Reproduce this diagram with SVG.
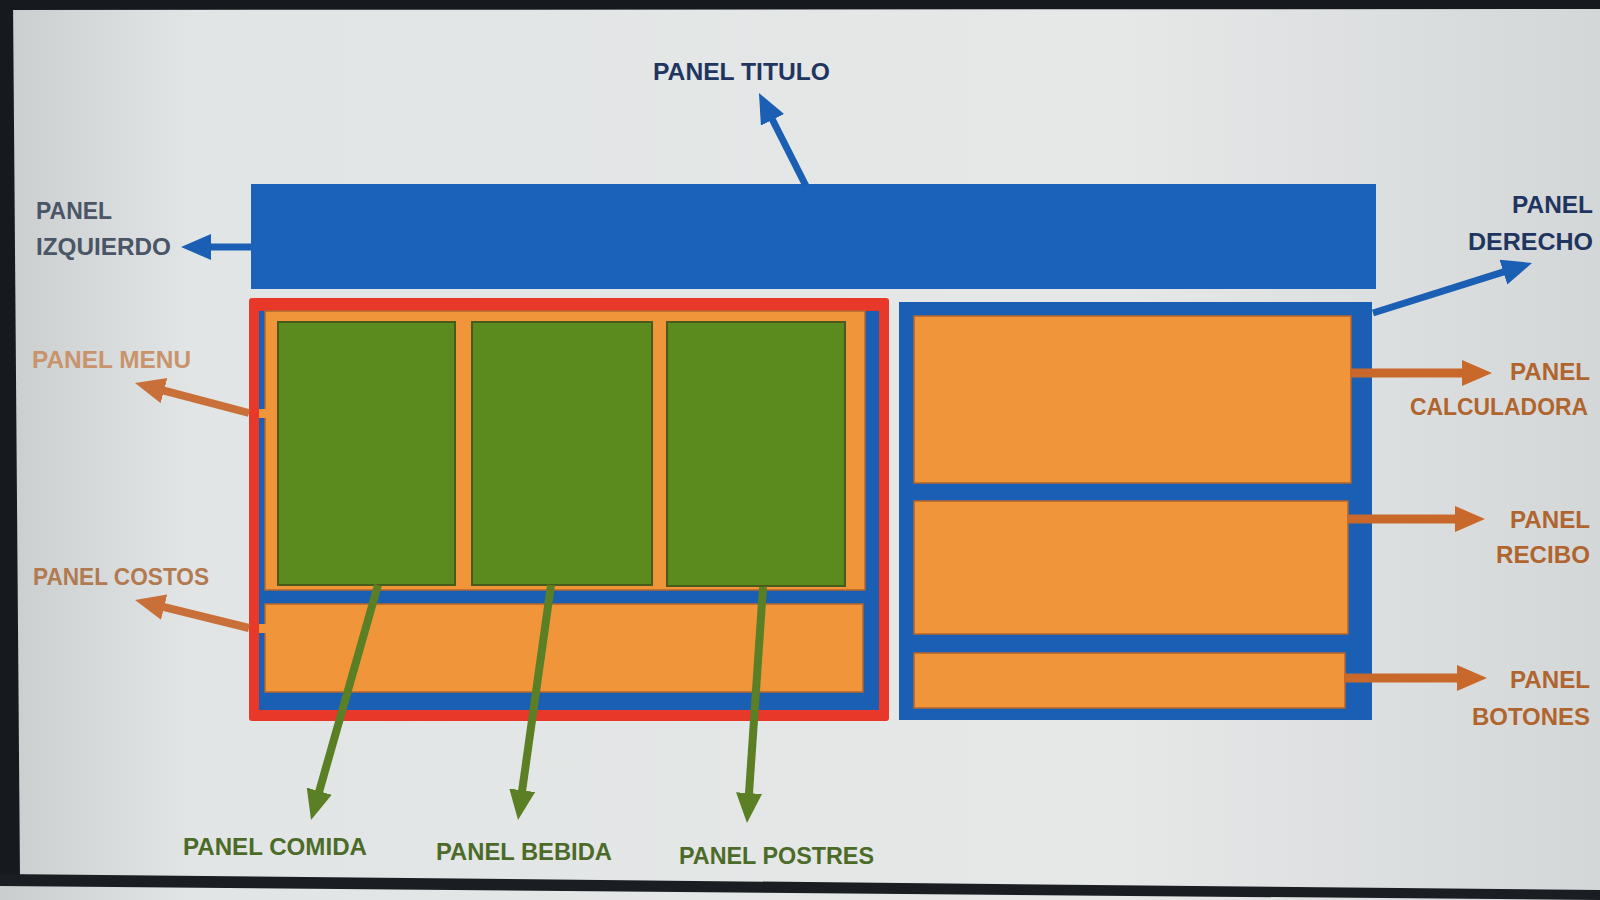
<svg xmlns="http://www.w3.org/2000/svg" width="1600" height="900" viewBox="0 0 1600 900">
<defs>
<style>
.lbl{font-family:"Liberation Sans",Arial,sans-serif;font-weight:bold;font-size:24px}
.end{text-anchor:end}
.blue{fill:#1b62bb}
.frame{fill:#1a5fb4}
.org{fill:#f0953a;stroke:#b5662c;stroke-width:1.5}
.grn{fill:#5b8a1f;stroke:#4a5a1a;stroke-width:2}
.cb{stroke:#1b5fb5;stroke-width:7;fill:none}
.co{stroke:#c9703a;stroke-width:8;fill:none}
.cr{stroke:#c8682a;stroke-width:9;fill:none}
.cg{stroke:#5a7f25;stroke-width:8;fill:none}
</style>
<linearGradient id="bg" x1="0" y1="0" x2="1" y2="0">
<stop offset="0" stop-color="#c9cdce"/>
<stop offset="0.12" stop-color="#e2e5e5"/>
<stop offset="0.7" stop-color="#e6e8e8"/>
<stop offset="1" stop-color="#d4d7d8"/>
</linearGradient>
<marker id="hb" markerUnits="userSpaceOnUse" markerWidth="32" markerHeight="28" refX="2" refY="13" orient="auto"><path d="M0,0 L30,13 L0,26 z" fill="#1b5fb5"/></marker>
<marker id="ho" markerUnits="userSpaceOnUse" markerWidth="32" markerHeight="28" refX="2" refY="13" orient="auto"><path d="M0,0 L30,13 L0,26 z" fill="#c9703a"/></marker>
<marker id="hr" markerUnits="userSpaceOnUse" markerWidth="32" markerHeight="28" refX="2" refY="13" orient="auto"><path d="M0,0 L30,13 L0,26 z" fill="#c8682a"/></marker>
<marker id="hg" markerUnits="userSpaceOnUse" markerWidth="32" markerHeight="28" refX="2" refY="13" orient="auto"><path d="M0,0 L30,13 L0,26 z" fill="#5a7f25"/></marker>
</defs>

<g id="background">
<rect x="0" y="0" width="1600" height="900" fill="url(#bg)"/>
<polygon points="0,0 1600,0 1600,9 0,10" fill="#16191e"/>
<polygon points="0,0 13,0 20,880 0,885" fill="#16191e"/>
<polygon points="0,874 1600,890 1600,900 0,886" fill="#1a1d22"/>
</g>

<g id="panel-titulo">
<rect x="251" y="184" width="1125" height="105" class="blue"/>
</g>

<g id="panel-izquierdo">
<rect x="249" y="298" width="640" height="423" rx="3" fill="#e8382a"/>
<rect x="259" y="311" width="620" height="399" class="frame"/>
</g>

<g id="panel-menu">
<rect x="265" y="311" width="600" height="279" class="org" stroke="none"/>
</g>
<g id="panel-comida"><rect x="278" y="322" width="177" height="263" class="grn"/></g>
<g id="panel-bebida"><rect x="472" y="322" width="180" height="263" class="grn"/></g>
<g id="panel-postres"><rect x="667" y="322" width="178" height="264" class="grn"/></g>
<g id="panel-costos"><rect x="265" y="604" width="598" height="88" class="org"/></g>

<g id="panel-derecho">
<rect x="899" y="302" width="473" height="418" class="frame"/>
</g>
<g id="panel-calculadora"><rect x="914" y="316" width="437" height="167" class="org"/></g>
<g id="panel-recibo"><rect x="914" y="501" width="434" height="133" class="org"/></g>
<g id="panel-botones"><rect x="914" y="653" width="431" height="55" class="org"/></g>

<g id="connectors">
<line x1="806" y1="186" x2="771.6" y2="118" class="cb" marker-end="url(#hb)"/>
<line x1="251" y1="247" x2="209" y2="247" class="cb" stroke-width="8" marker-end="url(#hb)"/>
<line x1="1373" y1="313" x2="1505.3" y2="271.4" class="cb" marker-end="url(#hb)"/>
<rect x="259" y="409" width="7" height="9" fill="#f0953a"/>
<line x1="249" y1="413" x2="162.1" y2="390.1" class="co" marker-end="url(#ho)"/>
<rect x="259" y="624" width="7" height="9" fill="#f0953a"/>
<line x1="249" y1="628" x2="162.2" y2="606.7" class="co" marker-end="url(#ho)"/>
<line x1="1350" y1="373" x2="1464" y2="373" class="cr" marker-end="url(#hr)"/>
<line x1="1347" y1="519" x2="1457" y2="519" class="cr" marker-end="url(#hr)"/>
<line x1="1344" y1="678" x2="1459" y2="678" class="cr" marker-end="url(#hr)"/>
<line x1="378" y1="585" x2="318.7" y2="793.1" class="cg" marker-end="url(#hg)"/>
<line x1="551" y1="585" x2="521.9" y2="792.3" class="cg" marker-end="url(#hg)"/>
<line x1="763" y1="587" x2="748.9" y2="795.1" class="cg" marker-end="url(#hg)"/>
</g>

<g id="labels">
<text x="653" y="80" class="lbl" font-size="25" fill="#1f3560" textLength="177" lengthAdjust="spacingAndGlyphs">PANEL TITULO</text>
<text x="36" y="219" class="lbl" fill="#4a5566" textLength="76" lengthAdjust="spacingAndGlyphs">PANEL</text>
<text x="36" y="255" class="lbl" fill="#4a5566" textLength="135" lengthAdjust="spacingAndGlyphs">IZQUIERDO</text>
<text x="1512" y="213" class="lbl" fill="#1f3560" textLength="81" lengthAdjust="spacingAndGlyphs">PANEL</text>
<text x="1468" y="250" class="lbl" fill="#1f3560" textLength="125" lengthAdjust="spacingAndGlyphs">DERECHO</text>
<text x="32" y="368" class="lbl" fill="#c9936c" textLength="159" lengthAdjust="spacingAndGlyphs">PANEL MENU</text>
<text x="33" y="585" class="lbl" fill="#b27a50" textLength="176" lengthAdjust="spacingAndGlyphs">PANEL COSTOS</text>
<text x="183" y="855" class="lbl" fill="#4d6b28" textLength="184" lengthAdjust="spacingAndGlyphs">PANEL COMIDA</text>
<text x="436" y="860" class="lbl" fill="#4d6b28" textLength="176" lengthAdjust="spacingAndGlyphs">PANEL BEBIDA</text>
<text x="679" y="864" class="lbl" fill="#4d6b28" textLength="195" lengthAdjust="spacingAndGlyphs">PANEL POSTRES</text>
<text x="1510" y="380" class="lbl" fill="#b0652e" textLength="80" lengthAdjust="spacingAndGlyphs">PANEL</text>
<text x="1410" y="415" class="lbl" font-size="23" fill="#b0652e" textLength="178" lengthAdjust="spacingAndGlyphs">CALCULADORA</text>
<text x="1510" y="528" class="lbl" fill="#b0652e" textLength="80" lengthAdjust="spacingAndGlyphs">PANEL</text>
<text x="1496" y="563" class="lbl" fill="#b0652e" textLength="94" lengthAdjust="spacingAndGlyphs">RECIBO</text>
<text x="1510" y="688" class="lbl" fill="#b0652e" textLength="80" lengthAdjust="spacingAndGlyphs">PANEL</text>
<text x="1472" y="725" class="lbl" fill="#b0652e" textLength="118" lengthAdjust="spacingAndGlyphs">BOTONES</text>
</g>
</svg>
